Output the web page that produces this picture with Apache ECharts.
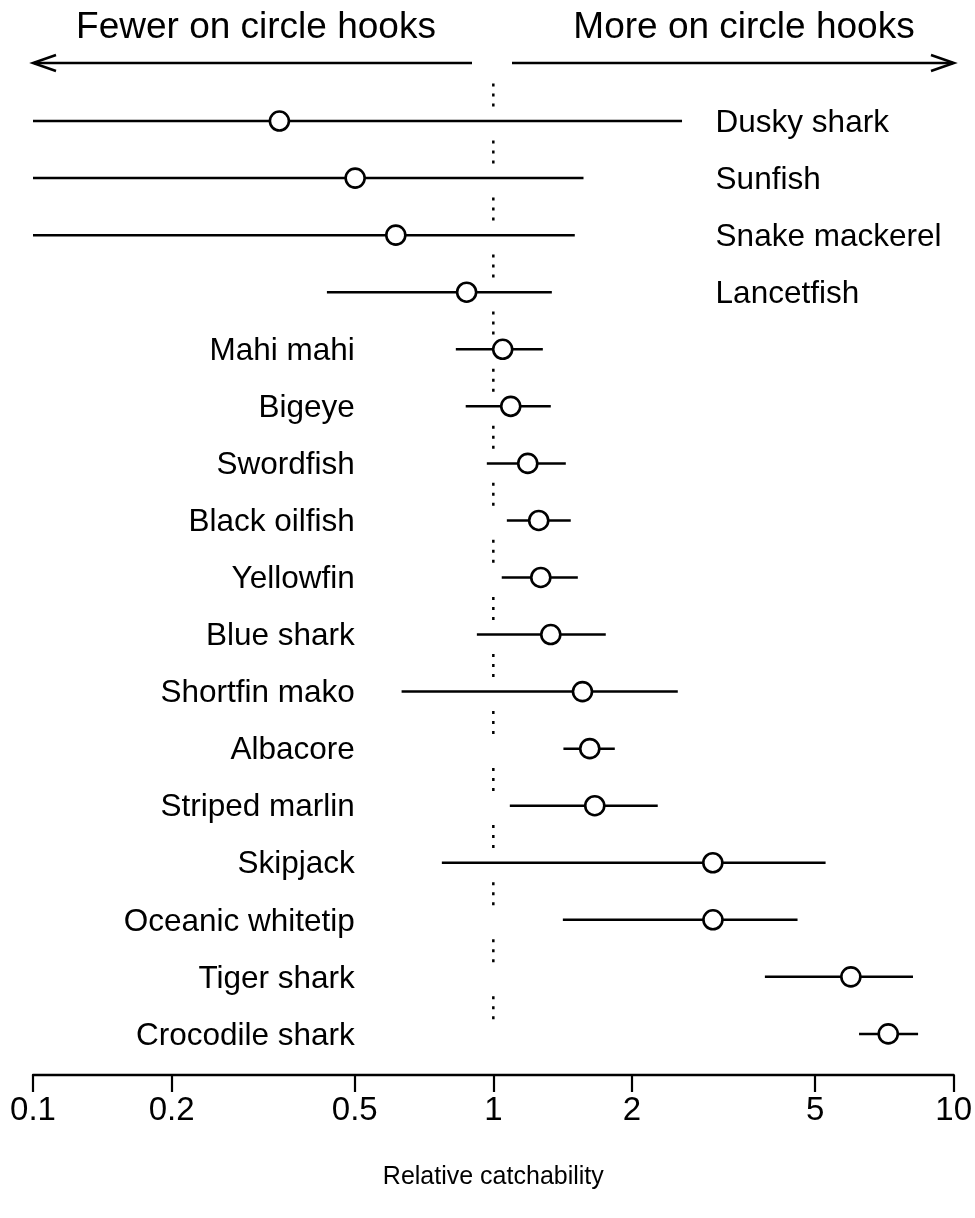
<!DOCTYPE html>
<html>
<head>
<meta charset="utf-8">
<script src="https://cdn.jsdelivr.net/npm/echarts@6/dist/echarts.min.js"></script>
<style>
html,body{margin:0;padding:0;background:#fff;}
#chart{width:975px;height:1218px;}
</style>
</head>
<body>
<div id="chart"></div>
<script>
// ---- Data ----
const species = ["Dusky shark","Sunfish","Snake mackerel","Lancetfish","Mahi mahi","Bigeye","Swordfish","Black oilfish","Yellowfin","Blue shark","Shortfin mako","Albacore","Striped marlin","Skipjack","Oceanic whitetip","Tiger shark","Crocodile shark"];
const estimate = [0.343, 0.501, 0.614, 0.875, 1.048, 1.091, 1.188, 1.255, 1.268, 1.333, 1.562, 1.620, 1.661, 2.998, 3.00, 5.98, 7.21];
const lower    = [0.1, 0.1, 0.1, 0.435, 0.829, 0.871, 0.968, 1.070, 1.043, 0.921, 0.632, 1.420, 1.086, 0.773, 1.416, 3.89, 6.23];
const upper    = [2.57, 1.57, 1.503, 1.340, 1.281, 1.333, 1.437, 1.473, 1.526, 1.755, 2.516, 1.836, 2.276, 5.27, 4.58, 8.16, 8.37];
const labelOnRight = [true, true, true, true, false, false, false, false, false, false, false, false, false, false, false, false, false];
const xTicks = [0.1, 0.2, 0.5, 1, 2, 5, 10];
const xTitle = "Relative catchability";
const leftHeader = "Fewer on circle hooks";
const rightHeader = "More on circle hooks";

const FONT = "'Liberation Sans', Arial, Helvetica, sans-serif";
const chart = echarts.init(document.getElementById('chart'));

const ciData = species.map((s, i) => [lower[i], upper[i], i]);
const ptData = species.map((s, i) => [estimate[i], i]);
const refData = species.map((s, i) => [1, i]);
const lblData = species.map((s, i) => [labelOnRight[i] ? 1 : 0, i]);

const option = {
  animation: false,
  backgroundColor: '#fff',
  grid: { left: 33, right: 21, top: 64, height: 1011, containLabel: false },
  xAxis: {
    type: 'log', logBase: 10, min: 0.1, max: 10,
    axisLine: { show: true, onZero: false, lineStyle: { color: '#000', width: 2.4 } },
    axisTick: { show: true, customValues: xTicks, length: 17, lineStyle: { color: '#000', width: 2.2 } },
    axisLabel: { show: true, customValues: xTicks, color: '#000', fontSize: 33, fontFamily: FONT, margin: 19,
      formatter: v => String(v) },
    splitLine: { show: false },
    minorTick: { show: false },
    name: xTitle, nameLocation: 'middle', nameGap: 90,
    nameTextStyle: { color: '#000', fontSize: 25, fontFamily: FONT }
  },
  yAxis: { type: 'value', inverse: true, min: -1, max: 16.72, show: false },
  series: [
    {
      type: 'custom', name: 'ref', data: refData, z: 1,
      renderItem: (params, api) => {
        const a = api.coord([api.value(0), api.value(1) - 0.66]);
        const b = api.coord([api.value(0), api.value(1) - 0.22]);
        return { type: 'line', shape: { x1: a[0], y1: a[1], x2: b[0], y2: b[1] },
          style: { stroke: '#000', lineWidth: 2.5, lineDash: [3, 7] } };
      }
    },
    {
      type: 'custom', name: 'ci', data: ciData, z: 2,
      renderItem: (params, api) => {
        const a = api.coord([api.value(0), api.value(2)]);
        const b = api.coord([api.value(1), api.value(2)]);
        return { type: 'line', shape: { x1: a[0], y1: a[1], x2: b[0], y2: b[1] },
          style: { stroke: '#000', lineWidth: 2.5 } };
      }
    },
    {
      type: 'scatter', name: 'estimate', data: ptData, z: 3,
      symbol: 'circle', symbolSize: 19,
      itemStyle: { color: '#fff', borderColor: '#000', borderWidth: 2.6, opacity: 1 }
    },
    {
      type: 'custom', name: 'labels', data: lblData, z: 4,
      renderItem: (params, api) => {
        const right = api.value(0) === 1;
        const p = api.coord([right ? 3.04 : 0.5, api.value(1)]);
        return { type: 'text', x: p[0], y: p[1] + 2,
          style: { text: species[params.dataIndex], fill: '#000', fontSize: 31.5, fontFamily: FONT,
            align: right ? 'left' : 'right', verticalAlign: 'middle' } };
      }
    }
  ],
  graphic: [
    { type: 'text', x: 256, y: 28, style: { text: leftHeader, fontSize: 37, fontFamily: FONT, fill: '#000', align: 'center', verticalAlign: 'middle' } },
    { type: 'text', x: 744, y: 28, style: { text: rightHeader, fontSize: 37, fontFamily: FONT, fill: '#000', align: 'center', verticalAlign: 'middle' } },
    { type: 'line', shape: { x1: 472, y1: 63, x2: 34, y2: 63 }, style: { stroke: '#000', lineWidth: 2.5 } },
    { type: 'polyline', shape: { points: [[56, 55], [33, 63], [56, 71]] }, style: { stroke: '#000', lineWidth: 2.5, fill: null } },
    { type: 'line', shape: { x1: 512, y1: 63, x2: 953, y2: 63 }, style: { stroke: '#000', lineWidth: 2.5 } },
    { type: 'polyline', shape: { points: [[931, 55], [954, 63], [931, 71]] }, style: { stroke: '#000', lineWidth: 2.5, fill: null } }
  ]
};
chart.setOption(option);
</script>
</body>
</html>
